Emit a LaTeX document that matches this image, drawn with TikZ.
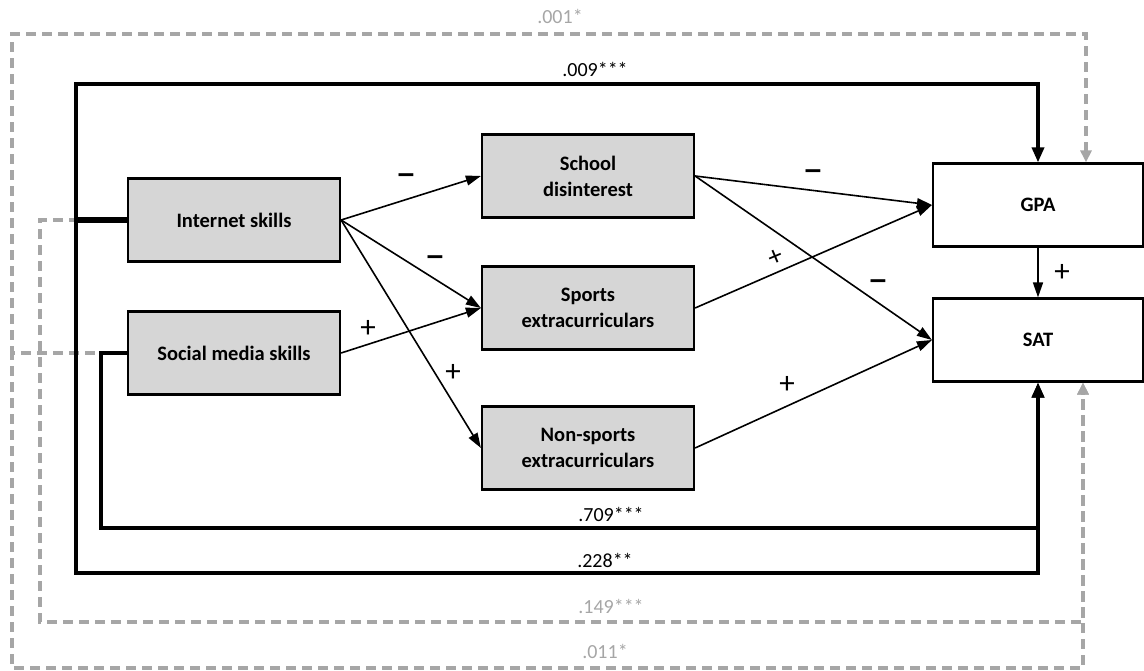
\documentclass[tikz,border=0pt]{standalone}
\usepackage{fontspec}
\usepackage{graphicx}
\setmainfont{Carlito}
\usetikzlibrary{arrows.meta}
\definecolor{boxgray}{HTML}{D6D6D6}
\definecolor{dgray}{HTML}{A6A6A6}
\tikzset{
  x=1pt, y=-1pt,
  mbox/.style={draw, line width=2.2pt, fill=boxgray, minimum width=212pt, minimum height=83pt, inner sep=0pt, align=center, font=\fontsize{20.5}{26}\selectfont\bfseries},
  obox/.style={mbox, fill=white},
  thin/.style={line width=1.6pt, -{Triangle[length=15pt,width=10pt]}},
  blk/.style={line width=3.4pt, -{Triangle[length=15pt,width=12pt]}},
  gry/.style={line width=3.2pt, draw=dgray, dash pattern=on 10pt off 6pt, -{Triangle[length=12pt,width=11pt]}, color=dgray},
  coef/.style={font=\fontsize{20}{22}\selectfont},
  gcoef/.style={coef, text=dgray},
  sgn/.style={font=\fontsize{31}{31}\selectfont},
  neg/.style={font=\fontsize{22}{24}\selectfont\bfseries},
}
\newcommand{\negsign}{\scalebox{1.9}[1.5]{–}}
\begin{document}
\begin{tikzpicture}
\useasboundingbox (0,0) rectangle (1144,671);
\node[mbox] (int) at (234,220) {Internet skills};
\node[mbox] (soc) at (234,353) {Social media skills};
\node[mbox] (sch) at (588,176) {School\\disinterest};
\node[mbox] (spo) at (588,308) {Sports\\extracurriculars};
\node[mbox] (non) at (588,448) {Non-sports\\extracurriculars};
\node[obox, minimum width=210pt] (gpa) at (1038,205) {GPA};
\node[obox, minimum width=210pt] (sat) at (1038,340) {SAT};

% corner coordinates
\coordinate (g1) at (12,34);
\coordinate (g2) at (12,668);
\coordinate (g3) at (40,622);
\coordinate (b1) at (76,84);
\coordinate (b2) at (76,573);
\coordinate (b3) at (101,528);

% gray dashed paths
\draw[gry] (soc.west) -| (g1) -| ([xshift=48pt]gpa.north);
\draw[gry] (soc.west) -| (g2) -| ([xshift=45pt]sat.south);
\draw[gry] (int.west) -| (g3) -| ([xshift=45pt]sat.south);

% black paths
\draw[blk] (int.west) -| (b1) -| (gpa.north);
\draw[blk] (int.west) -| (b2) -| (sat.south);
\draw[line width=5.5pt] (int.west) -- ++(-52,0);
\draw[blk] (soc.west) -| (b3) -| (sat.south);

% thin arrows
\draw[thin] (int.east) -- (sch.west);
\draw[thin] (int.east) -- (spo.west);
\draw[thin] (int.east) -- (non.west);
\draw[thin] (soc.east) -- (spo.west);
\draw[thin] (sch.east) -- (gpa.west);
\draw[thin] (sch.east) -- (sat.west);
\draw[thin] (spo.east) -- (gpa.west);
\draw[thin] (non.east) -- (sat.west);
\draw[thin] (gpa.south) -- (sat.north);

% coefficient labels
\node[gcoef] (l1) at (560,16) {.001*};
\node[coef] (l2) at (595,69) {.009***};
\node[coef] (l3) at (611,514) {.709***};
\node[coef] (l4) at (605,560) {.228**};
\node[gcoef] (l5) at (611,606) {.149***};
\node[gcoef] (l6) at (605,651) {.011*};

% sign labels
\node[neg] (n1) at (406,179) {\negsign};
\node[neg] (n2) at (435,261) {\negsign};
\node[neg] (n3) at (813,175) {\negsign};
\node[neg] (n4) at (878,285) {\negsign};
\node[sgn] (p1) at (368,329) {+};
\node[sgn] (p2) at (453,373) {+};
\node[sgn, font=\fontsize{28}{28}\selectfont, rotate=23] (p3) at (776,258) {+};
\node[sgn] (p4) at (787,385) {+};
\node[sgn] (p5) at (1062,273) {+};
\end{tikzpicture}
\end{document}
